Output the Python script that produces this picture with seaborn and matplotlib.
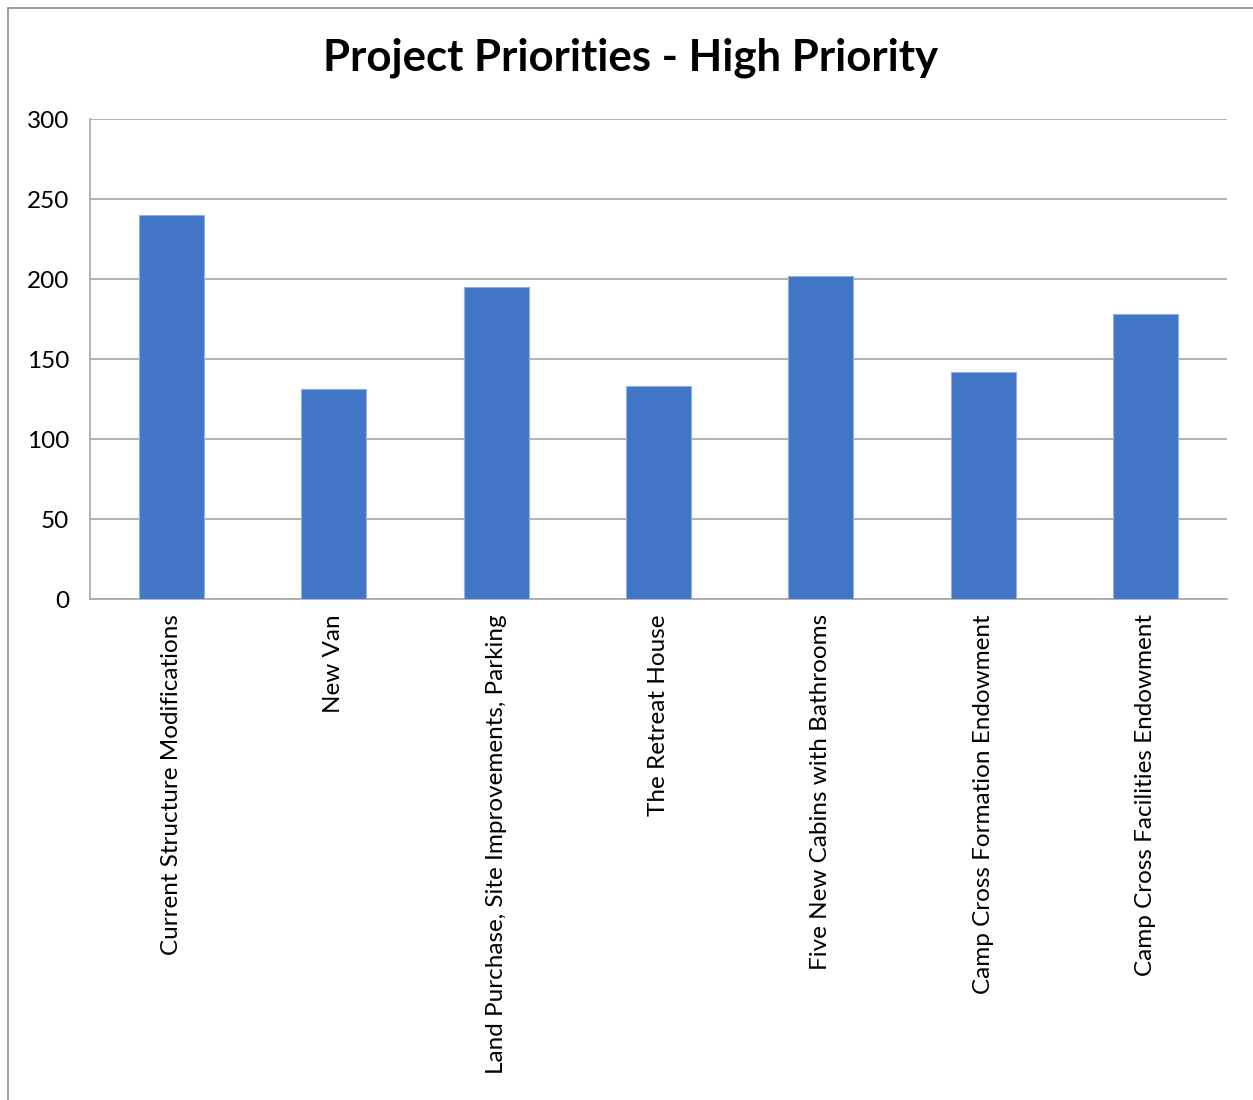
import matplotlib
matplotlib.use('Agg')
import matplotlib.pyplot as plt
import seaborn as sns
import pandas as pd
import numpy as np
from matplotlib.lines import Line2D

# Data
projects = ['Current Structure Modifications', 'New Van',
            'Land Purchase, Site Improvements, Parking', 'The Retreat House',
            'Five New Cabins with Bathrooms', 'Camp Cross Formation Endowment',
            'Camp Cross Facilities Endowment']
votes = [240, 131, 195, 133, 202, 142, 178]

df = pd.DataFrame({'project': projects, 'votes': votes})

sns.set_style('white')
plt.rcParams['font.family'] = ['Lato', 'DejaVu Sans']
plt.rcParams['text.color'] = 'black'
plt.rcParams['xtick.color'] = 'black'
plt.rcParams['ytick.color'] = 'black'

fig = plt.figure(figsize=(12.53, 11), dpi=100)
ax = fig.add_axes([90/1253, 1 - 599/1100, (1227-90)/1253, (599-119)/1100])

sns.barplot(data=df, x='project', y='votes', color='#4175C6', width=0.4,
            saturation=1, edgecolor='#8fb0e0', linewidth=0.8, ax=ax, zorder=3)

ax.set_xlim(-0.5, len(projects) - 0.5)
ax.set_ylim(0, 300)
ax.set_yticks(range(0, 301, 50))
ax.yaxis.grid(True, color='#a6a6a6', linewidth=1.2, zorder=0)
ax.set_axisbelow(True)

# category boundaries carry the ticks, like Excel
ax.set_xticks(np.arange(-0.5, len(projects)), minor=True)
ax.tick_params(axis='x', which='minor', length=7, width=1, color='#a6a6a6', direction='out')
ax.tick_params(axis='x', which='major', length=0, pad=11)
ax.tick_params(axis='y', length=7, width=1, color='#a6a6a6', direction='out', pad=8)
ax.set_xticks(range(len(projects)))
ax.set_xticklabels(projects, rotation=90, fontsize=17.5, va='top')
ax.tick_params(axis='y', labelsize=17.5)

for side in ['top', 'right']:
    ax.spines[side].set_visible(False)
for side in ['left', 'bottom']:
    ax.spines[side].set_color('#a6a6a6')
    ax.spines[side].set_linewidth(1.2)

ax.set_xlabel('')
ax.set_ylabel('')
fig.text(631/1253, 1 - 58/1100, 'Project Priorities - High Priority', ha='center', va='center',
         fontsize=31.5, fontweight='bold', color='black')

# chart area border (left and top edges visible)
fig.lines.append(Line2D([8/1253, 8/1253], [0, 1 - 8/1100], transform=fig.transFigure,
                        color='#8c8c8c', linewidth=1.2))
fig.lines.append(Line2D([8/1253, 1], [1 - 8/1100, 1 - 8/1100], transform=fig.transFigure,
                        color='#8c8c8c', linewidth=1.2))

fig.savefig('out.png', dpi=100)
